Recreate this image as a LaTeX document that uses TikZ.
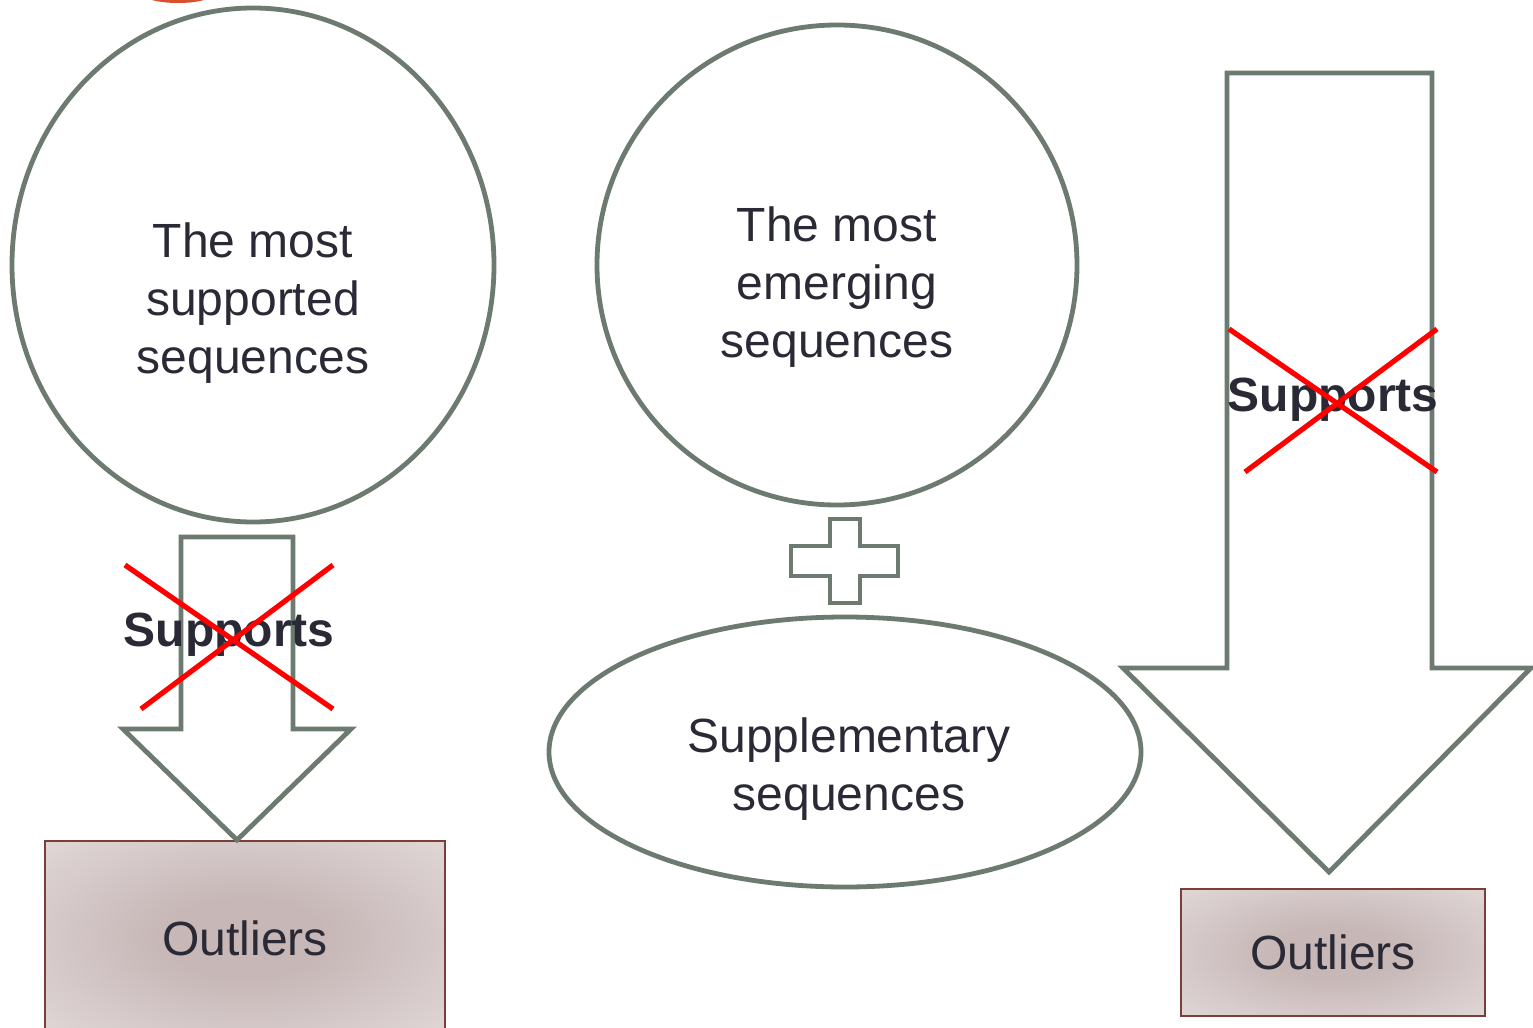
\documentclass[tikz,border=0pt]{standalone}
\usepackage{fontspec}
\setmainfont{Liberation Sans}
\usetikzlibrary{shapes.geometric}
\definecolor{edgegray}{HTML}{6C7A70}
\definecolor{txt}{HTML}{2A2A36}
\definecolor{boxedge}{HTML}{7A4038}
\definecolor{shin}{HTML}{C7B7B7}
\definecolor{shout}{HTML}{E3DADA}
\definecolor{crossred}{HTML}{FF0000}
\definecolor{blob}{HTML}{D9502E}
\pgfdeclareradialshading{outlshade}{\pgfpoint{0bp}{0bp}}{color(0bp)=(shin); color(10bp)=(shin); color(38bp)=(shout); color(50bp)=(shout)}
\tikzset{
  shapeline/.style={draw=edgegray, line width=2.4pt, line join=miter},
  bubble/.style={shapeline, ellipse, inner sep=0pt},
  label24/.style={text=txt, align=center, font=\fontsize{24}{29}\selectfont},
  boldlabel/.style={text=txt, font=\fontsize{24}{29}\selectfont\bfseries},
  outlierbox/.style={draw=boxedge, line width=0.9pt, shading=outlshade, rectangle, inner sep=0pt, text=txt, font=\fontsize{24}{29}\selectfont},
  crossline/.style={draw=crossred, line width=2.6pt}
}
\begin{document}
\begin{tikzpicture}[x=0.5pt,y=-0.5pt]
\clip (0,0) rectangle (1533,1028);
\fill[white] (0,0) rectangle (1533,1028);
% partial blob at top
\fill[blob] (178,-8) ellipse [x radius=19pt, y radius=5.5pt];
% circles
\node[bubble, minimum width=241pt, minimum height=257pt] (c1) at (253,265) {};
\node[label24] (t1) at (253,303) {The most\\supported\\sequences};
\node[bubble, minimum width=240pt, minimum height=240pt] (c2) at (837,265) {};
\node[label24] (t2) at (837,287) {The most\\emerging\\sequences};
% plus
\draw[shapeline] (830,519)--(860,519)--(860,546)--(898,546)--(898,576)--(860,576)--(860,603)--(830,603)--(830,576)--(791,576)--(791,546)--(830,546)--cycle;
% supplementary ellipse
\node[bubble, minimum width=296pt, minimum height=135pt] (e1) at (845,752) {};
\node[label24] (t3) at (849,769) {Supplementary\\sequences};
% outlier boxes
\node[outlierbox, minimum width=200pt, minimum height=97pt] (o1) at (245,938) {Outliers};
\node[outlierbox, minimum width=152pt, minimum height=63.5pt] (o2) at (1333,952.5) {Outliers};
% left arrow
\draw[shapeline] (181,537) -- (293,537) -- (293,729) -- (351,729) -- (237,840) -- (123,729) -- (181,729) -- cycle;
\node[boldlabel] (s1) at (229,635) {Supports};
\draw[crossline] (125,565) -- (333,709);
\draw[crossline] (333,565) -- (141,709);
% right arrow
\draw[shapeline] (1227,73) -- (1432,73) -- (1432,668) -- (1531,668) -- (1329,872) -- (1123,668) -- (1227,668) -- cycle;
\node[boldlabel] (s2) at (1333,400) {Supports};
\draw[crossline] (1229,329) -- (1437,472);
\draw[crossline] (1437,329) -- (1245,472);
\end{tikzpicture}
\end{document}
